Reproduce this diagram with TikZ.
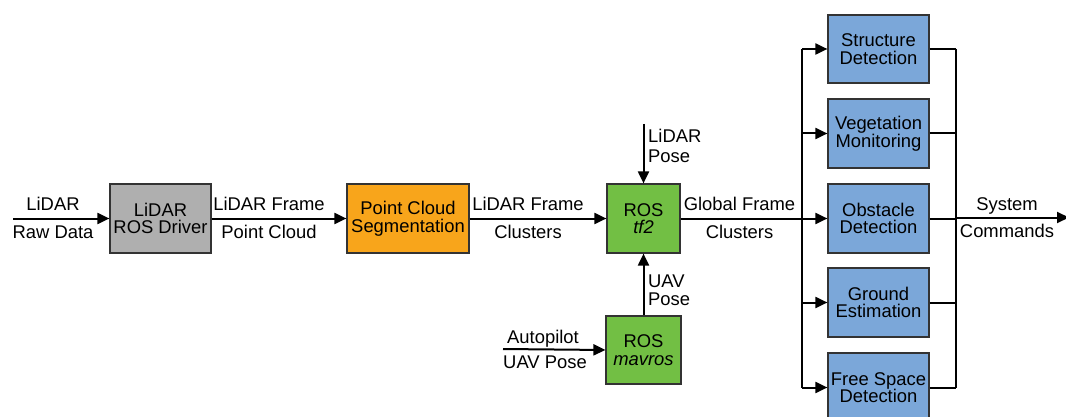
\documentclass[tikz,border=0pt]{standalone}
\usepackage{fontspec}
\setmainfont{Liberation Sans}
\usetikzlibrary{arrows.meta}
\definecolor{drvgray}{HTML}{AFAFAF}
\definecolor{segorange}{HTML}{F8A51B}
\definecolor{rosgreen}{HTML}{72BF44}
\definecolor{modblue}{HTML}{7BA7D9}
\definecolor{edge}{HTML}{333333}
\tikzset{
  box/.style={draw=edge, line width=1.2pt, rectangle, inner sep=0pt, align=center,
    font=\fontsize{18.4}{17.5}\selectfont, text=black},
  lbl/.style={inner sep=0pt, anchor=base, font=\fontsize{18.4}{17.5}\selectfont},
  lbll/.style={lbl, anchor=base west},
  flow/.style={line width=2pt, -{Triangle[length=12pt,width=11pt]}},
  wire/.style={line width=2pt},
}
\begin{document}
\begin{tikzpicture}[x=1pt,y=-1pt]
\useasboundingbox (0,0) rectangle (1066,417);
\clip (0,0) rectangle (1066,417);

% processing blocks
\node[box, fill=drvgray, minimum width=101pt, minimum height=69pt] (drv) at (160.5,218.5) {LiDAR\\ROS Driver};
\node[box, fill=segorange, minimum width=122pt, minimum height=69pt] (seg) at (408,218.5) {Point Cloud\\Segmentation};
\node[box, fill=rosgreen, minimum width=73pt, minimum height=69pt] (tf) at (643.5,218.5) {ROS\\\textit{tf2}};
\node[box, fill=rosgreen, minimum width=75pt, minimum height=68pt] (mav) at (643.5,350) {ROS\\\textit{mavros}};

% application modules
\node[box, fill=modblue, minimum width=101pt, minimum height=68pt] (m1) at (878.5,49) {Structure\\Detection};
\node[box, fill=modblue, minimum width=101pt, minimum height=69pt] (m2) at (878.5,133.5) {Vegetation\\Monitoring};
\node[box, fill=modblue, minimum width=101pt, minimum height=69pt] (m3) at (878.5,218.5) {Obstacle\\Detection};
\node[box, fill=modblue, minimum width=101pt, minimum height=69pt] (m4) at (878.5,302.5) {Ground\\Estimation};
\node[box, fill=modblue, minimum width=101pt, minimum height=69pt] (m5) at (878.5,387.5) {Free Space\\Detection};

% free ends and bus points
\coordinate (rawin) at (13,218.5);
\coordinate (posein) at (643.5,124);
\coordinate (apin) at (503,349);
\coordinate (lbus) at (802,218.5);
\coordinate (lbtop) at (802,49);
\coordinate (lbbot) at (802,387.5);
\coordinate (rbtop) at (956,49);
\coordinate (rbbot) at (956,387.5);
\coordinate (rbmid) at (956,217.5);
\coordinate (cmdout) at (1069,217.5);

% main data flow
\draw[flow] (rawin) -- (drv.west);
\draw[flow] (drv.east) -- (seg.west);
\draw[flow] (seg.east) -- (tf.west);
\draw[wire] (tf.east) -- (lbus);
\draw[flow] (posein) -- (tf.north);
\draw[flow] (mav.north) -- (tf.south);
\draw[flow] (apin) -- (mav.west);

% fan-out to the modules
\draw[wire] (lbtop) -- (lbbot);
\foreach \m in {m1,m2,m3,m4,m5}{
  \draw[flow] (lbtop |- \m.west) -- (\m.west);
  \draw[wire] (\m.east) -- (rbtop |- \m.east);
}
% merge to system commands
\draw[wire] (rbtop) -- (rbbot);
\draw[flow] (rbmid) -- (cmdout);

% edge labels
\node[lbl] (l1a) at (53,211) {LiDAR};
\node[lbl] (l1b) at (53,238) {Raw Data};
\node[lbl] (l2a) at (269,211) {LiDAR Frame};
\node[lbl] (l2b) at (269,238) {Point Cloud};
\node[lbl] (l3a) at (528,211) {LiDAR Frame};
\node[lbl] (l3b) at (528,238) {Clusters};
\node[lbl] (l4a) at (739.5,211) {Global Frame};
\node[lbl] (l4b) at (739.5,238) {Clusters};
\node[lbl] (l5a) at (1007,211) {System};
\node[lbl] (l5b) at (1007,237) {Commands};
\node[lbll] (l6a) at (648,143) {LiDAR};
\node[lbll] (l6b) at (648,163) {Pose};
\node[lbll] (l7a) at (648,287) {UAV};
\node[lbll] (l7b) at (648,305) {Pose};
\node[lbl] (l8a) at (543,343) {Autopilot};
\node[lbl] (l8b) at (545,368) {UAV Pose};
\end{tikzpicture}
\end{document}
